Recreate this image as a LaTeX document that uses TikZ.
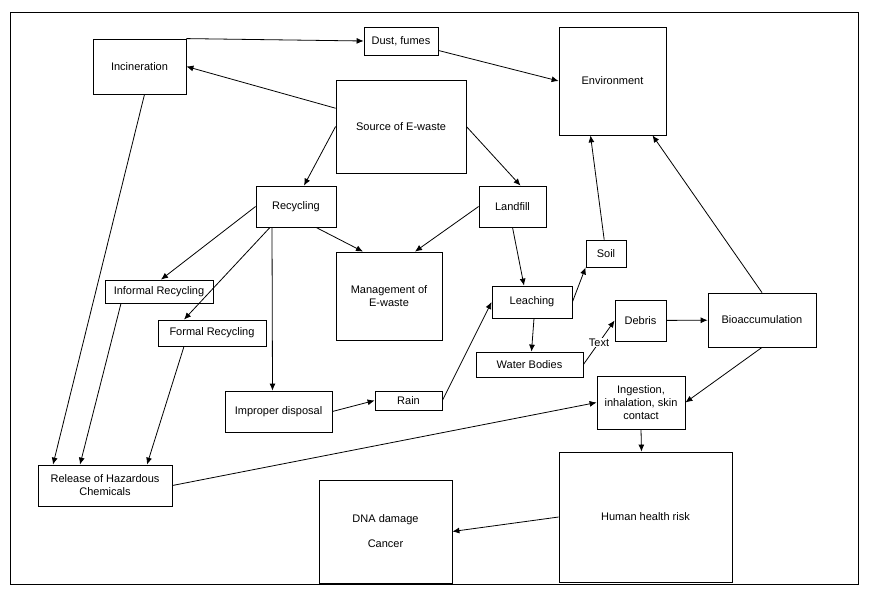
\documentclass[tikz,border=0pt]{standalone}
\usepackage{fontspec}
\setmainfont{Liberation Sans}
\usetikzlibrary{arrows.meta}
\begin{document}
\begin{tikzpicture}[x=1pt, y=-1pt, font=\fontsize{11}{13}\selectfont,
    box/.style = {draw, thick, align=center, inner sep=1pt},
    arr/.style = {-{Latex[length=7pt, width=6pt]}, thick}]
        \useasboundingbox (0,0) rectangle (870,596);
        \draw[thick] (10,12) rectangle (858,584);
        % boxes
        \node[box, minimum width=93, minimum height=55] (inc) at (139.5,66.5) {Incineration};
        \node[box, minimum width=74, minimum height=28] (dust) at (401,41) {Dust, fumes};
        \node[box, minimum width=107, minimum height=108] (env) at (612.5,81) {Environment};
        \node[box, minimum width=130, minimum height=93] (src) at (401,126.5) {Source of E-waste};
        \node[box, minimum width=80, minimum height=41] (rec) at (296,206.5) {Recycling};
        \node[box, minimum width=67, minimum height=41] (land) at (512.5,206.5) {Landfill};
        \node[box, minimum width=106, minimum height=88] (mgmt) at (389,296) {Management of\\E-waste};
        \node[box, minimum width=108, minimum height=23] (inf) at (159,291.5) {Informal Recycling};
        \node[box, minimum width=108, minimum height=26] (form) at (212,333) {Formal Recycling};
        \node[box, minimum width=40, minimum height=27] (soil) at (606,253.5) {Soil};
        \node[box, minimum width=80, minimum height=32] (leach) at (532,302) {Leaching};
        \node[box, minimum width=51, minimum height=41] (debris) at (640.5,320.5) {Debris};
        \node[box, minimum width=108, minimum height=54] (bio) at (762,320) {Bioaccumulation};
        \node[box, minimum width=107, minimum height=25] (water) at (529.5,364.5) {Water Bodies};
        \node[box, minimum width=88, minimum height=53] (ing) at (641,402.5) {Ingestion,\\inhalation, skin\\contact};
        \node[box, minimum width=107, minimum height=41] (imp) at (278.5,411.5) {Improper disposal};
        \node[box, minimum width=67, minimum height=19] (rain) at (408.5,400.5) {Rain};
        \node[box, minimum width=134, minimum height=41] (rel) at (105,485.5) {Release of Hazardous\\Chemicals};
        \node[box, minimum width=173, minimum height=130] (human) at (645.5,517) {Human health risk};
        \node[box, minimum width=133, minimum height=103] (dna) at (385.5,531.5) {DNA damage\\[12pt]Cancer};
        % connectors
        \draw[arr] (inc.north east) -- (dust.west);
        \draw[arr] (dust) -- (env.west);
        \draw[arr] (src) -- (inc.east);
        \draw[arr] (src.west) -- ([xshift=8]rec.north);
        \draw[arr] (src.east) -- ([xshift=8]land.north);
        \draw[arr] (rec.west) -- ([xshift=2]inf.north);
        \draw[arr] ([xshift=-26]rec.south) -- ([xshift=-28]form.north);
        \draw[arr] ([xshift=-24]rec.south) -- ([xshift=-6]imp.north);
        \draw[arr] ([xshift=20]rec.south) -- ([xshift=-26]mgmt.north);
        \draw[arr] (land.west) -- ([xshift=26]mgmt.north);
        \draw[arr] ([xshift=0]land.south) -- ([xshift=-8]leach.north);
        \draw[arr] (leach.east) -- (soil.south west);
        \draw[arr] (soil) -- ([xshift=-22]env.south);
        \draw[arr] ([xshift=2]leach.south) -- ([xshift=2]water.north);
        \draw[arr] (water.east) -- node[fill=white, inner sep=1pt] {Text} (debris.west);
        \draw[arr] (debris) -- (bio);
        \draw[arr] (bio.north) -- ([xshift=40]env.south);
        \draw[arr] (bio.south) -- (ing.east);
        \draw[arr] ([xshift=5]inc.south) -- ([xshift=-52]rel.north);
        \draw[arr] ([xshift=-38]inf.south) -- ([xshift=-25]rel.north);
        \draw[arr] ([xshift=-28]form.south) -- ([xshift=42]rel.north);
        \draw[arr] (imp.east) -- (rain.west);
        \draw[arr] (rain.east) -- (leach.west);
        \draw[arr] (rel.east) -- (ing.west);
        \draw[arr] (ing.south) -- ([xshift=-4]human.north);
        \draw[arr] (human.west) -- (dna.east);
\end{tikzpicture}
\end{document}
